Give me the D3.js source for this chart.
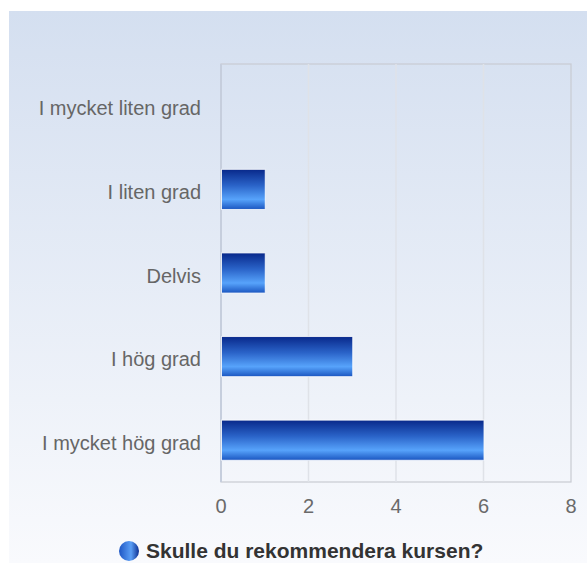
<!DOCTYPE html>
<meta charset="utf-8">
<style>
    body { margin: 0; background: #fff; }
    text { font-family: "Liberation Sans", Arial, sans-serif; }
</style>
<body>
    <script src="https://d3js.org/d3.v7.min.js"></script>
    <script>
        var categories = ["I mycket liten grad", "I liten grad", "Delvis", "I hög grad", "I mycket hög grad"];
        var values = [0, 1, 1, 3, 6];
        var xTicks = [0, 2, 4, 6, 8];
        var seriesName = "Skulle du rekommendera kursen?";

        var width = 587,
            height = 563;

        var margin = {top: 64, right: 16, bottom: 80, left: 221};

        var svg = d3.select("body").append("svg")
            .attr("width", width)
            .attr("height", height);

        var defs = svg.append("defs");

        // page background, light blue fading to white
        var bg = defs.append("linearGradient")
            .attr("id", "bg").attr("x1", 0).attr("y1", 0).attr("x2", 0).attr("y2", 1);
        bg.append("stop").attr("offset", "0%").attr("stop-color", "#d4dff0");
        bg.append("stop").attr("offset", "100%").attr("stop-color", "#f9fafd");

        var barGrad = defs.append("linearGradient")
            .attr("id", "bar").attr("x1", 0).attr("y1", 0).attr("x2", 0).attr("y2", 1);
        barGrad.append("stop").attr("offset", "0%").attr("stop-color", "#08288a");
        barGrad.append("stop").attr("offset", "40%").attr("stop-color", "#2a63c8");
        barGrad.append("stop").attr("offset", "75%").attr("stop-color", "#57a3fb");
        barGrad.append("stop").attr("offset", "100%").attr("stop-color", "#1a55c0");

        var dotGrad = defs.append("linearGradient")
            .attr("id", "dot").attr("x1", 0).attr("y1", 0).attr("x2", 1).attr("y2", 0);
        dotGrad.append("stop").attr("offset", "0%").attr("stop-color", "#1e56c4");
        dotGrad.append("stop").attr("offset", "60%").attr("stop-color", "#5a9ef5");
        dotGrad.append("stop").attr("offset", "100%").attr("stop-color", "#0c2f92");

        svg.append("rect")
            .attr("x", 9).attr("y", 11)
            .attr("width", width - 9).attr("height", height - 11)
            .attr("fill", "url(#bg)");

        var x = d3.scaleLinear()
            .domain([0, 8])
            .range([margin.left, width - margin.right]);

        var y = d3.scaleBand()
            .domain(categories)
            .range([margin.top, height - margin.bottom - 1])
            .paddingInner(0.52)
            .paddingOuter(0.26);

        var plotTop = margin.top, plotBottom = height - margin.bottom - 1;

        // plot frame
        svg.append("rect")
            .attr("x", x(0)).attr("y", plotTop)
            .attr("width", x(8) - x(0)).attr("height", plotBottom - plotTop)
            .attr("fill", "none")
            .attr("stroke", "#c8cbd2")
            .attr("stroke-width", 1.2);

        // vertical grid lines
        svg.append("g")
            .selectAll("line")
            .data(xTicks.slice(1, -1))
            .enter().append("line")
            .attr("x1", d => x(d)).attr("x2", d => x(d))
            .attr("y1", plotTop).attr("y2", plotBottom)
            .attr("stroke", "#dfe2e8")
            .attr("stroke-width", 1.5);

        // left axis line
        svg.append("line")
            .attr("x1", x(0)).attr("x2", x(0))
            .attr("y1", plotTop).attr("y2", plotBottom)
            .attr("stroke", "#c6cedd")
            .attr("stroke-width", 2);

        var rows = categories.map((c, i) => ({cat: c, val: values[i]}));

        // bars
        svg.append("g")
            .selectAll("rect")
            .data(rows.filter(d => d.val > 0))
            .enter().append("rect")
            .attr("x", x(0) + 0.5)
            .attr("y", d => y(d.cat))
            .attr("width", d => x(d.val) - x(0))
            .attr("height", y.bandwidth())
            .attr("fill", "url(#bar)")
            .attr("stroke", "#ffffff")
            .attr("stroke-opacity", 0.8)
            .attr("stroke-width", 1);

        // category labels
        svg.append("g")
            .selectAll("text")
            .data(categories)
            .enter().append("text")
            .attr("x", x(0) - 20)
            .attr("y", d => y(d) + y.bandwidth() / 2)
            .attr("dy", "0.48em")
            .attr("text-anchor", "end")
            .style("font-size", "20px")
            .style("fill", "#666666")
            .text(d => d);

        // x tick labels
        svg.append("g")
            .selectAll("text")
            .data(xTicks)
            .enter().append("text")
            .attr("x", d => x(d))
            .attr("y", plotBottom + 31)
            .attr("text-anchor", "middle")
            .style("font-size", "20px")
            .style("fill", "#6a6a6a")
            .text(d => d);

        // legend
        var legend = svg.append("g");
        legend.append("circle")
            .attr("cx", 129).attr("cy", 551)
            .attr("r", 10)
            .attr("fill", "url(#dot)");
        legend.append("text")
            .attr("x", 146)
            .attr("y", 558)
            .style("font-size", "21px")
            .style("font-weight", "bold")
            .style("fill", "#333333")
            .text(seriesName);
    </script>
</body>
</html>
